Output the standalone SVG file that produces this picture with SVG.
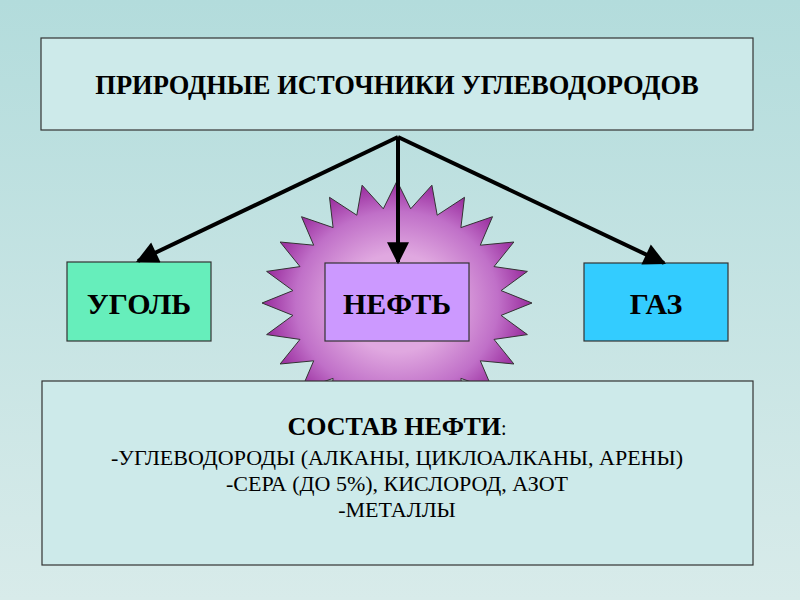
<svg xmlns="http://www.w3.org/2000/svg" width="800" height="600" viewBox="0 0 800 600">
<defs>
<linearGradient id="bg" x1="0" y1="0" x2="0" y2="1"><stop offset="0" stop-color="#b3dcdc"/><stop offset="1" stop-color="#d8ebea"/></linearGradient>
<radialGradient id="star" cx="0.5" cy="0.5" r="0.5"><stop offset="0.4" stop-color="#e0a8e0"/><stop offset="0.75" stop-color="#c070c8"/><stop offset="1" stop-color="#982a9c"/></radialGradient>
<marker id="ah" viewBox="0 0 10 10" refX="9" refY="5" markerWidth="6" markerHeight="5.5" orient="auto" markerUnits="strokeWidth"><path d="M0,0L10,5L0,10z" fill="#000"/></marker>
</defs>
<style>
.box{stroke:#333;stroke-width:1.2}
.t{font-family:"Liberation Serif",serif;font-weight:bold;fill:#000;text-anchor:middle}
.l{font-family:"Liberation Serif",serif;fill:#000;text-anchor:middle;font-size:22px}
.c{stroke:#000;stroke-width:4;fill:none;marker-end:url(#ah)}
</style>
<rect width="800" height="600" fill="url(#bg)"/>
<g id="title"><rect class="box" x="41" y="38" width="712" height="92" fill="#cdeaea"/><text class="t" x="397" y="94" font-size="26.5">ПРИРОДНЫЕ ИСТОЧНИКИ УГЛЕВОДОРОДОВ</text></g>
<g id="star-burst"><polygon fill="url(#star)" stroke="#333" stroke-width="1" points="532,303 501.1,315.4 527.4,334.6 494,339.4 513.9,364 480.3,360.8 492.5,389.3 460.9,378.4 464.5,408.7 437.2,390.8 431.9,420.8 410.7,397.2 397,425 383.3,397.2 362.1,420.8 356.8,390.8 329.5,408.7 333.1,378.4 301.5,389.3 313.7,360.8 280.1,364 300,339.4 266.6,334.6 292.9,315.4 262,303 292.9,290.6 266.6,271.4 300,266.6 280.1,242 313.7,245.2 301.5,216.7 333.1,227.6 329.5,197.3 356.8,215.2 362.1,185.2 383.3,208.8 397,181 410.7,208.8 431.9,185.2 437.2,215.2 464.5,197.3 460.9,227.6 492.5,216.7 480.3,245.2 513.9,242 494,266.6 527.4,271.4 501.1,290.6"/></g>
<g id="coal"><rect class="box" x="67" y="262" width="144" height="79" fill="#66eebb"/><text class="t" x="139" y="314" font-size="30">УГОЛЬ</text></g>
<g id="oil"><rect class="box" x="325" y="263" width="144" height="78" fill="#cc99ff"/><text class="t" x="397" y="314" font-size="30">НЕФТЬ</text></g>
<g id="gas"><rect class="box" x="584" y="263" width="144" height="78" fill="#33ccff"/><text class="t" x="656" y="314" font-size="30">ГАЗ</text></g>
<g id="connectors">
<line class="c" x1="398" y1="137" x2="138" y2="261"/>
<line class="c" x1="398" y1="137" x2="398" y2="262"/>
<line class="c" x1="398" y1="137" x2="664" y2="263"/>
</g>
<g id="composition"><rect class="box" x="42" y="381" width="711" height="184" fill="#cdeaea"/>
<text class="t" x="397" y="435" font-size="26">СОСТАВ НЕФТИ<tspan font-weight="normal" font-size="20">:</tspan></text>
<text class="l" x="397" y="465">-УГЛЕВОДОРОДЫ (АЛКАНЫ, ЦИКЛОАЛКАНЫ, АРЕНЫ)</text>
<text class="l" x="397" y="491">-СЕРА (ДО 5%), КИСЛОРОД, АЗОТ</text>
<text class="l" x="397" y="517">-МЕТАЛЛЫ</text>
</g>
</svg>
